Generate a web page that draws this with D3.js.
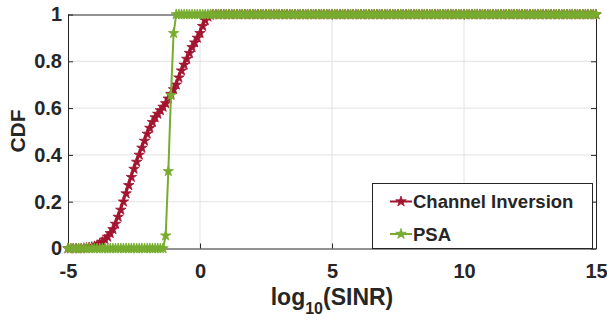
<!DOCTYPE html>
<html><head><meta charset="utf-8">
<script src="https://cdn.jsdelivr.net/npm/d3@7"></script>
<style>
body{margin:0;background:#fff}
svg text{font-family:"Liberation Sans",Arial,Helvetica,sans-serif;font-weight:bold;fill:#262626}
</style>
</head><body>
<svg id="chart" width="607" height="322"></svg>
<script>
const xValues = [
-5,-4.9,-4.8,-4.7,-4.6,-4.5,-4.4,-4.3,-4.2,-4.1,
-4,-3.9,-3.8,-3.7,-3.6,-3.5,-3.4,-3.3,-3.2,-3.1,
-3,-2.9,-2.8,-2.7,-2.6,-2.5,-2.4,-2.3,-2.2,-2.1,
-2,-1.9,-1.8,-1.7,-1.6,-1.5,-1.4,-1.3,-1.2,-1.1,
-1,-0.9,-0.8,-0.7,-0.6,-0.5,-0.4,-0.3,-0.2,-0.1,
0,0.1,0.2,0.3,0.4,0.5,0.6,0.7,0.8,0.9,
1,1.1,1.2,1.3,1.4,1.5,1.6,1.7,1.8,1.9,
2,2.1,2.2,2.3,2.4,2.5,2.6,2.7,2.8,2.9,
3,3.1,3.2,3.3,3.4,3.5,3.6,3.7,3.8,3.9,
4,4.1,4.2,4.3,4.4,4.5,4.6,4.7,4.8,4.9,
5,5.1,5.2,5.3,5.4,5.5,5.6,5.7,5.8,5.9,
6,6.1,6.2,6.3,6.4,6.5,6.6,6.7,6.8,6.9,
7,7.1,7.2,7.3,7.4,7.5,7.6,7.7,7.8,7.9,
8,8.1,8.2,8.3,8.4,8.5,8.6,8.7,8.8,8.9,
9,9.1,9.2,9.3,9.4,9.5,9.6,9.7,9.8,9.9,
10,10.1,10.2,10.3,10.4,10.5,10.6,10.7,10.8,10.9,
11,11.1,11.2,11.3,11.4,11.5,11.6,11.7,11.8,11.9,
12,12.1,12.2,12.3,12.4,12.5,12.6,12.7,12.8,12.9,
13,13.1,13.2,13.3,13.4,13.5,13.6,13.7,13.8,13.9,
14,14.1,14.2,14.3,14.4,14.5,14.6,14.7,14.8,14.9,
15];

const channelInversion = [
0,0,0,0,0,0,0.001,0.002,0.004,0.006,
0.009,0.014,0.02,0.028,0.038,0.05,0.065,0.082,0.105,0.135,
0.165,0.2,0.235,0.27,0.305,0.34,0.37,0.4,0.43,0.46,
0.49,0.515,0.54,0.56,0.575,0.59,0.605,0.62,0.64,0.66,
0.68,0.7,0.73,0.76,0.785,0.81,0.835,0.86,0.88,0.9,
0.92,0.95,0.975,0.99,0.998,1,1,1,1,1,
1,1,1,1,1,1,1,1,1,1,
1,1,1,1,1,1,1,1,1,1,
1,1,1,1,1,1,1,1,1,1,
1,1,1,1,1,1,1,1,1,1,
1,1,1,1,1,1,1,1,1,1,
1,1,1,1,1,1,1,1,1,1,
1,1,1,1,1,1,1,1,1,1,
1,1,1,1,1,1,1,1,1,1,
1,1,1,1,1,1,1,1,1,1,
1,1,1,1,1,1,1,1,1,1,
1,1,1,1,1,1,1,1,1,1,
1,1,1,1,1,1,1,1,1,1,
1,1,1,1,1,1,1,1,1,1,
1,1,1,1,1,1,1,1,1,1,
1];

const psa = [
0,0,0,0,0,0,0,0,0,0,
0,0,0,0,0,0,0,0,0,0,
0,0,0,0,0,0,0,0,0,0,
0,0,0,0,0,0,0,0.055,0.33,0.655,
0.92,1,1,1,1,1,1,1,1,1,
1,1,1,1,1,1,1,1,1,1,
1,1,1,1,1,1,1,1,1,1,
1,1,1,1,1,1,1,1,1,1,
1,1,1,1,1,1,1,1,1,1,
1,1,1,1,1,1,1,1,1,1,
1,1,1,1,1,1,1,1,1,1,
1,1,1,1,1,1,1,1,1,1,
1,1,1,1,1,1,1,1,1,1,
1,1,1,1,1,1,1,1,1,1,
1,1,1,1,1,1,1,1,1,1,
1,1,1,1,1,1,1,1,1,1,
1,1,1,1,1,1,1,1,1,1,
1,1,1,1,1,1,1,1,1,1,
1,1,1,1,1,1,1,1,1,1,
1,1,1,1,1,1,1,1,1,1,
1];

const xTicks = [-5, 0, 5, 10, 15];
const xTickLabels = ["-5", "0", "5", "10", "15"];
const yTicks = [0, 0.2, 0.4, 0.6, 0.8, 1];
const yTickLabels = ["0", "0.2", "0.4", "0.6", "0.8", "1"];
const seriesNames = ["Channel Inversion", "PSA"];
const seriesColors = ["#A2142F", "#77AC30"];

const svg = d3.select("#chart");
const L = 68, R = 596, T = 14.5, B = 248.5;
const x = d3.scaleLinear().domain([-5, 15]).range([L, R]);
const y = d3.scaleLinear().domain([0, 1]).range([B, T]);
const axisColor = "#262626";

// grid
const grid = svg.append("g");
grid.selectAll("line.gx").data(xTicks.slice(1, -1)).join("line")
  .attr("x1", d => x(d)).attr("x2", d => x(d)).attr("y1", T).attr("y2", B)
  .attr("stroke", "#e2e2e2").attr("stroke-width", 1);
grid.selectAll("line.gy").data(yTicks.slice(1, -1)).join("line")
  .attr("y1", d => y(d)).attr("y2", d => y(d)).attr("x1", L).attr("x2", R)
  .attr("stroke", "#e2e2e2").attr("stroke-width", 1);

// axes
const fmtX = d => xTickLabels[xTicks.indexOf(d)];
const fmtY = d => yTickLabels[yTicks.indexOf(d)];
const gx = svg.append("g").attr("transform", `translate(0,${B})`)
  .call(d3.axisBottom(x).tickValues(xTicks).tickFormat(fmtX).tickSizeInner(-5).tickSizeOuter(0).tickPadding(15));
const gxTop = svg.append("g").attr("transform", `translate(0,${T})`)
  .call(d3.axisTop(x).tickValues(xTicks).tickFormat("").tickSizeInner(-5).tickSizeOuter(0));
const gy = svg.append("g").attr("transform", `translate(${L},0)`)
  .call(d3.axisLeft(y).tickValues(yTicks).tickFormat(fmtY).tickSizeInner(-5).tickSizeOuter(0).tickPadding(6));
const gyR = svg.append("g").attr("transform", `translate(${R},0)`)
  .call(d3.axisRight(y).tickValues(yTicks).tickFormat("").tickSizeInner(-5).tickSizeOuter(0));
[gx, gxTop, gy, gyR].forEach(g => {
  g.select(".domain").attr("stroke", axisColor);
  g.selectAll(".tick line").attr("stroke", axisColor);
  g.selectAll(".tick text").attr("fill", axisColor).style("font-size", "20px").style("font-weight", "bold")
    .style("font-family", '"Liberation Sans",Arial,sans-serif');
});

// series
const allSeries = [channelInversion, psa];
const line = d3.line().x(d => x(d[0])).y(d => y(d[1]));
const star = d3.symbol().type(d3.symbolStar).size(34);
allSeries.forEach((vals, i) => {
  const pts = xValues.map((xv, j) => [xv, vals[j]]);
  const g = svg.append("g");
  g.append("path").datum(pts).attr("d", line).attr("fill", "none")
    .attr("stroke", seriesColors[i]).attr("stroke-width", 2);
  g.selectAll("path.m").data(pts).join("path").attr("class", "m")
    .attr("transform", d => `translate(${x(d[0])},${y(d[1])})`)
    .attr("d", star).attr("fill", seriesColors[i]).attr("stroke", seriesColors[i]).attr("stroke-width", 0.8);
});

// axis labels
svg.append("text").attr("transform", "translate(25,131) rotate(-90)")
  .attr("text-anchor", "middle").style("font-size", "21px").text("CDF");
const xl = svg.append("text").attr("x", 332).attr("y", 305).attr("text-anchor", "middle").style("font-size", "23px");
xl.append("tspan").text("log");
xl.append("tspan").attr("dy", 9).style("font-size", "16px").text("10");
xl.append("tspan").attr("dy", -9).text("(SINR)");

// legend
const lg = svg.append("g");
lg.append("rect").attr("x", 372.5).attr("y", 183.5).attr("width", 220).attr("height", 65)
  .attr("fill", "#fff").attr("stroke", axisColor).attr("stroke-width", 1);
const rowsY = [201.5, 234];
seriesNames.forEach((name, i) => {
  lg.append("line").attr("x1", 390).attr("x2", 412).attr("y1", rowsY[i]).attr("y2", rowsY[i])
    .attr("stroke", seriesColors[i]).attr("stroke-width", 2);
  lg.append("path").attr("transform", `translate(401,${rowsY[i]})`).attr("d", star)
    .attr("fill", seriesColors[i]).attr("stroke", seriesColors[i]).attr("stroke-width", 0.8);
  lg.append("text").attr("x", 413).attr("y", rowsY[i]).attr("dy", "0.36em")
    .style("font-size", "18.5px").text(name);
});
</script>
</body></html>
